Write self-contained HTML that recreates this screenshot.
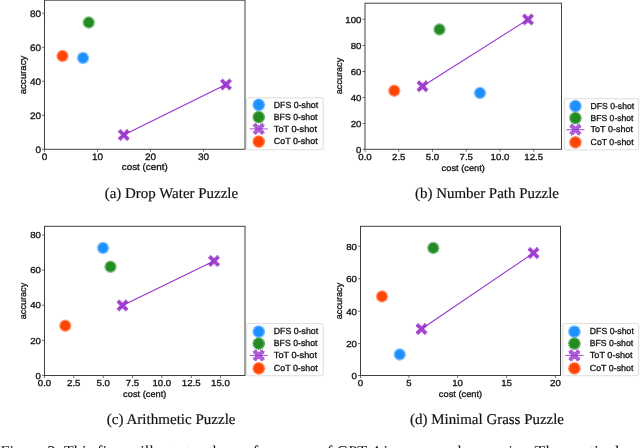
<!DOCTYPE html>
<html><head><meta charset="utf-8"><title>Figure 3</title>
<style>html,body{margin:0;padding:0;background:#fff;}body{width:640px;height:448px;overflow:hidden;}svg{display:block;}</style>
</head><body>
<svg width="640" height="448" viewBox="0 0 640 448" style="opacity:0.999;will-change:transform" text-rendering="geometricPrecision">
<rect width="640" height="448" fill="#fff"/>
<rect x="44.5" y="0.2" width="200.5" height="149.10000000000002" fill="none" stroke="#404040" stroke-width="1.0"/>
<line x1="44.5" y1="149.3" x2="44.5" y2="151.8" stroke="#404040" stroke-width="0.75"/>
<text x="44.5" y="159.8" font-family='"Liberation Sans", sans-serif' font-size="9.31" fill="#111" text-anchor="middle" textLength="5.54" lengthAdjust="spacingAndGlyphs" stroke="#111" stroke-width="0.3">0</text>
<line x1="97.5" y1="149.3" x2="97.5" y2="151.8" stroke="#404040" stroke-width="0.75"/>
<text x="97.5" y="159.8" font-family='"Liberation Sans", sans-serif' font-size="9.31" fill="#111" text-anchor="middle" textLength="11.07" lengthAdjust="spacingAndGlyphs" stroke="#111" stroke-width="0.3">10</text>
<line x1="150.5" y1="149.3" x2="150.5" y2="151.8" stroke="#404040" stroke-width="0.75"/>
<text x="150.5" y="159.8" font-family='"Liberation Sans", sans-serif' font-size="9.31" fill="#111" text-anchor="middle" textLength="11.07" lengthAdjust="spacingAndGlyphs" stroke="#111" stroke-width="0.3">20</text>
<line x1="203.6" y1="149.3" x2="203.6" y2="151.8" stroke="#404040" stroke-width="0.75"/>
<text x="203.6" y="159.8" font-family='"Liberation Sans", sans-serif' font-size="9.31" fill="#111" text-anchor="middle" textLength="11.07" lengthAdjust="spacingAndGlyphs" stroke="#111" stroke-width="0.3">30</text>
<line x1="42.0" y1="149.3" x2="44.5" y2="149.3" stroke="#404040" stroke-width="0.75"/>
<text x="41.0" y="153.08200000000002" font-family='"Liberation Sans", sans-serif' font-size="9.31" fill="#111" text-anchor="end" textLength="5.54" lengthAdjust="spacingAndGlyphs" stroke="#111" stroke-width="0.3">0</text>
<line x1="42.0" y1="115.3" x2="44.5" y2="115.3" stroke="#404040" stroke-width="0.75"/>
<text x="41.0" y="118.782" font-family='"Liberation Sans", sans-serif' font-size="9.31" fill="#111" text-anchor="end" textLength="11.07" lengthAdjust="spacingAndGlyphs" stroke="#111" stroke-width="0.3">20</text>
<line x1="42.0" y1="81.3" x2="44.5" y2="81.3" stroke="#404040" stroke-width="0.75"/>
<text x="41.0" y="84.782" font-family='"Liberation Sans", sans-serif' font-size="9.31" fill="#111" text-anchor="end" textLength="11.07" lengthAdjust="spacingAndGlyphs" stroke="#111" stroke-width="0.3">40</text>
<line x1="42.0" y1="47.3" x2="44.5" y2="47.3" stroke="#404040" stroke-width="0.75"/>
<text x="41.0" y="50.782" font-family='"Liberation Sans", sans-serif' font-size="9.31" fill="#111" text-anchor="end" textLength="11.07" lengthAdjust="spacingAndGlyphs" stroke="#111" stroke-width="0.3">60</text>
<line x1="42.0" y1="13.2" x2="44.5" y2="13.2" stroke="#404040" stroke-width="0.75"/>
<text x="41.0" y="16.682000000000002" font-family='"Liberation Sans", sans-serif' font-size="9.31" fill="#111" text-anchor="end" textLength="11.07" lengthAdjust="spacingAndGlyphs" stroke="#111" stroke-width="0.3">80</text>
<text x="144.75" y="170.4" font-family='"Liberation Sans", sans-serif' font-size="9.31" fill="#111" text-anchor="middle" textLength="45.96" lengthAdjust="spacingAndGlyphs" stroke="#111" stroke-width="0.3">cost (cent)</text>
<text x="25.8" y="75" font-family='"Liberation Sans", sans-serif' font-size="9.31" fill="#111" text-anchor="middle" textLength="38.66" lengthAdjust="spacingAndGlyphs" transform="rotate(-90 25.8 75)" stroke="#111" stroke-width="0.3">accuracy</text>
<line x1="123.75" y1="135" x2="226" y2="84.5" stroke="#9932cc" stroke-width="1.1"/>
<g transform="translate(123.75,135) rotate(45)"><path d="M-1.6,-6.3H1.6V-1.6H6.3V1.6H1.6V6.3H-1.6V1.6H-6.3V-1.6H-1.6Z" fill="#9932cc" fill-opacity="0.93" stroke="#9932cc" stroke-width="1.3" stroke-opacity="0.6" stroke-dasharray="1.2 0.7" stroke-linejoin="round"/></g>
<g transform="translate(226,84.5) rotate(45)"><path d="M-1.6,-6.3H1.6V-1.6H6.3V1.6H1.6V6.3H-1.6V1.6H-6.3V-1.6H-1.6Z" fill="#9932cc" fill-opacity="0.93" stroke="#9932cc" stroke-width="1.3" stroke-opacity="0.6" stroke-dasharray="1.2 0.7" stroke-linejoin="round"/></g>
<circle cx="62.5" cy="56" r="6.15" fill="#ff4500" fill-opacity="0.42"/>
<circle cx="62.5" cy="56" r="5.53" fill="none" stroke="#ff4500" stroke-width="1.55" stroke-dasharray="1.25 0.85" stroke-opacity="0.3"/>
<circle cx="62.5" cy="56" r="4.9" fill="#ff4500"/>
<circle cx="83" cy="58" r="6.15" fill="#1e90ff" fill-opacity="0.42"/>
<circle cx="83" cy="58" r="5.53" fill="none" stroke="#1e90ff" stroke-width="1.55" stroke-dasharray="1.25 0.85" stroke-opacity="0.3"/>
<circle cx="83" cy="58" r="4.9" fill="#1e90ff"/>
<circle cx="88.75" cy="22.5" r="6.15" fill="#228b22" fill-opacity="0.42"/>
<circle cx="88.75" cy="22.5" r="5.53" fill="none" stroke="#228b22" stroke-width="1.55" stroke-dasharray="1.25 0.85" stroke-opacity="0.3"/>
<circle cx="88.75" cy="22.5" r="4.9" fill="#228b22"/>
<rect x="246.6" y="97.8" width="76.6" height="51.89999999999999" rx="1.6" fill="#fff" stroke="#d4d4d4" stroke-width="0.8"/>
<circle cx="258.75" cy="104.9" r="6.15" fill="#1e90ff" fill-opacity="0.5"/>
<circle cx="258.75" cy="104.9" r="5.60" fill="none" stroke="#1e90ff" stroke-width="1.40" stroke-dasharray="1.25 0.85" stroke-opacity="0.6"/>
<circle cx="258.75" cy="104.9" r="5.050000000000001" fill="#1e90ff"/>
<text x="273.8" y="107.5" font-family='"Liberation Sans", sans-serif' font-size="8.83" fill="#111" text-anchor="start" textLength="44.32" lengthAdjust="spacingAndGlyphs" stroke="#111" stroke-width="0.3">DFS 0-shot</text>
<circle cx="258.75" cy="117.1" r="6.15" fill="#228b22" fill-opacity="0.5"/>
<circle cx="258.75" cy="117.1" r="5.60" fill="none" stroke="#228b22" stroke-width="1.40" stroke-dasharray="1.25 0.85" stroke-opacity="0.6"/>
<circle cx="258.75" cy="117.1" r="5.050000000000001" fill="#228b22"/>
<text x="273.8" y="119.69999999999999" font-family='"Liberation Sans", sans-serif' font-size="8.83" fill="#111" text-anchor="start" textLength="43.63" lengthAdjust="spacingAndGlyphs" stroke="#111" stroke-width="0.3">BFS 0-shot</text>
<line x1="249.65" y1="128.9" x2="267.85" y2="128.9" stroke="#9932cc" stroke-width="1.0" stroke-opacity="0.85"/>
<g transform="translate(258.75,128.9) rotate(45)"><path d="M-1.7,-6.3H1.7V-1.7H6.3V1.7H1.7V6.3H-1.7V1.7H-6.3V-1.7H-1.7Z" fill="#9932cc" fill-opacity="0.78" stroke="#9932cc" stroke-width="1.5" stroke-dasharray="1.2 0.9" stroke-opacity="0.7" stroke-linejoin="round"/></g>
<text x="273.8" y="131.5" font-family='"Liberation Sans", sans-serif' font-size="8.83" fill="#111" text-anchor="start" textLength="43.13" lengthAdjust="spacingAndGlyphs" stroke="#111" stroke-width="0.3">ToT 0-shot</text>
<circle cx="258.75" cy="141.6" r="6.15" fill="#ff4500" fill-opacity="0.5"/>
<circle cx="258.75" cy="141.6" r="5.60" fill="none" stroke="#ff4500" stroke-width="1.40" stroke-dasharray="1.25 0.85" stroke-opacity="0.6"/>
<circle cx="258.75" cy="141.6" r="5.050000000000001" fill="#ff4500"/>
<text x="273.8" y="144.2" font-family='"Liberation Sans", sans-serif' font-size="8.83" fill="#111" text-anchor="start" textLength="43.84" lengthAdjust="spacingAndGlyphs" stroke="#111" stroke-width="0.3">CoT 0-shot</text>
<text x="171.4" y="198" font-family='"Liberation Serif", serif' font-size="14.94" fill="#111" text-anchor="middle" stroke="#111" stroke-width="0.18">(a) Drop Water Puzzle</text>
<rect x="365" y="3.2" width="196.5" height="146.10000000000002" fill="none" stroke="#404040" stroke-width="1.0"/>
<line x1="365" y1="149.3" x2="365" y2="151.8" stroke="#404040" stroke-width="0.75"/>
<text x="365" y="160.3" font-family='"Liberation Sans", sans-serif' font-size="8.77" fill="#111" text-anchor="middle" textLength="13.43" lengthAdjust="spacingAndGlyphs" stroke="#111" stroke-width="0.3">0.0</text>
<line x1="398.75" y1="149.3" x2="398.75" y2="151.8" stroke="#404040" stroke-width="0.75"/>
<text x="398.75" y="160.3" font-family='"Liberation Sans", sans-serif' font-size="8.77" fill="#111" text-anchor="middle" textLength="13.43" lengthAdjust="spacingAndGlyphs" stroke="#111" stroke-width="0.3">2.5</text>
<line x1="432.5" y1="149.3" x2="432.5" y2="151.8" stroke="#404040" stroke-width="0.75"/>
<text x="432.5" y="160.3" font-family='"Liberation Sans", sans-serif' font-size="8.77" fill="#111" text-anchor="middle" textLength="13.43" lengthAdjust="spacingAndGlyphs" stroke="#111" stroke-width="0.3">5.0</text>
<line x1="466.25" y1="149.3" x2="466.25" y2="151.8" stroke="#404040" stroke-width="0.75"/>
<text x="466.25" y="160.3" font-family='"Liberation Sans", sans-serif' font-size="8.77" fill="#111" text-anchor="middle" textLength="13.43" lengthAdjust="spacingAndGlyphs" stroke="#111" stroke-width="0.3">7.5</text>
<line x1="500" y1="149.3" x2="500" y2="151.8" stroke="#404040" stroke-width="0.75"/>
<text x="500" y="160.3" font-family='"Liberation Sans", sans-serif' font-size="8.77" fill="#111" text-anchor="middle" textLength="18.81" lengthAdjust="spacingAndGlyphs" stroke="#111" stroke-width="0.3">10.0</text>
<line x1="533.75" y1="149.3" x2="533.75" y2="151.8" stroke="#404040" stroke-width="0.75"/>
<text x="533.75" y="160.3" font-family='"Liberation Sans", sans-serif' font-size="8.77" fill="#111" text-anchor="middle" textLength="18.81" lengthAdjust="spacingAndGlyphs" stroke="#111" stroke-width="0.3">12.5</text>
<line x1="362.5" y1="149.3" x2="365" y2="149.3" stroke="#404040" stroke-width="0.75"/>
<text x="361.5" y="152.752" font-family='"Liberation Sans", sans-serif' font-size="8.77" fill="#111" text-anchor="end" textLength="5.37" lengthAdjust="spacingAndGlyphs" stroke="#111" stroke-width="0.3">0</text>
<line x1="362.5" y1="123.5" x2="365" y2="123.5" stroke="#404040" stroke-width="0.75"/>
<text x="361.5" y="126.952" font-family='"Liberation Sans", sans-serif' font-size="8.77" fill="#111" text-anchor="end" textLength="10.75" lengthAdjust="spacingAndGlyphs" stroke="#111" stroke-width="0.3">20</text>
<line x1="362.5" y1="97.5" x2="365" y2="97.5" stroke="#404040" stroke-width="0.75"/>
<text x="361.5" y="100.952" font-family='"Liberation Sans", sans-serif' font-size="8.77" fill="#111" text-anchor="end" textLength="10.75" lengthAdjust="spacingAndGlyphs" stroke="#111" stroke-width="0.3">40</text>
<line x1="362.5" y1="71.5" x2="365" y2="71.5" stroke="#404040" stroke-width="0.75"/>
<text x="361.5" y="74.952" font-family='"Liberation Sans", sans-serif' font-size="8.77" fill="#111" text-anchor="end" textLength="10.75" lengthAdjust="spacingAndGlyphs" stroke="#111" stroke-width="0.3">60</text>
<line x1="362.5" y1="45.5" x2="365" y2="45.5" stroke="#404040" stroke-width="0.75"/>
<text x="361.5" y="48.952" font-family='"Liberation Sans", sans-serif' font-size="8.77" fill="#111" text-anchor="end" textLength="10.75" lengthAdjust="spacingAndGlyphs" stroke="#111" stroke-width="0.3">80</text>
<line x1="362.5" y1="19.3" x2="365" y2="19.3" stroke="#404040" stroke-width="0.75"/>
<text x="361.5" y="22.752" font-family='"Liberation Sans", sans-serif' font-size="8.77" fill="#111" text-anchor="end" textLength="16.12" lengthAdjust="spacingAndGlyphs" stroke="#111" stroke-width="0.3">100</text>
<text x="463.25" y="170.6" font-family='"Liberation Sans", sans-serif' font-size="8.77" fill="#111" text-anchor="middle" textLength="43.32" lengthAdjust="spacingAndGlyphs" stroke="#111" stroke-width="0.3">cost (cent)</text>
<text x="341.5" y="76" font-family='"Liberation Sans", sans-serif' font-size="8.77" fill="#111" text-anchor="middle" textLength="36.44" lengthAdjust="spacingAndGlyphs" transform="rotate(-90 341.5 76)" stroke="#111" stroke-width="0.3">accuracy</text>
<line x1="422.5" y1="86.25" x2="528" y2="19.5" stroke="#9932cc" stroke-width="1.1"/>
<g transform="translate(422.5,86.25) rotate(45)"><path d="M-1.6,-6.3H1.6V-1.6H6.3V1.6H1.6V6.3H-1.6V1.6H-6.3V-1.6H-1.6Z" fill="#9932cc" fill-opacity="0.93" stroke="#9932cc" stroke-width="1.3" stroke-opacity="0.6" stroke-dasharray="1.2 0.7" stroke-linejoin="round"/></g>
<g transform="translate(528,19.5) rotate(45)"><path d="M-1.6,-6.3H1.6V-1.6H6.3V1.6H1.6V6.3H-1.6V1.6H-6.3V-1.6H-1.6Z" fill="#9932cc" fill-opacity="0.93" stroke="#9932cc" stroke-width="1.3" stroke-opacity="0.6" stroke-dasharray="1.2 0.7" stroke-linejoin="round"/></g>
<circle cx="394.25" cy="90.75" r="6.15" fill="#ff4500" fill-opacity="0.42"/>
<circle cx="394.25" cy="90.75" r="5.53" fill="none" stroke="#ff4500" stroke-width="1.55" stroke-dasharray="1.25 0.85" stroke-opacity="0.3"/>
<circle cx="394.25" cy="90.75" r="4.9" fill="#ff4500"/>
<circle cx="480" cy="93" r="6.15" fill="#1e90ff" fill-opacity="0.42"/>
<circle cx="480" cy="93" r="5.53" fill="none" stroke="#1e90ff" stroke-width="1.55" stroke-dasharray="1.25 0.85" stroke-opacity="0.3"/>
<circle cx="480" cy="93" r="4.9" fill="#1e90ff"/>
<circle cx="439.5" cy="29.5" r="6.15" fill="#228b22" fill-opacity="0.42"/>
<circle cx="439.5" cy="29.5" r="5.53" fill="none" stroke="#228b22" stroke-width="1.55" stroke-dasharray="1.25 0.85" stroke-opacity="0.3"/>
<circle cx="439.5" cy="29.5" r="4.9" fill="#228b22"/>
<rect x="564.4" y="98.7" width="74.20000000000005" height="51.10000000000001" rx="1.6" fill="#fff" stroke="#d4d4d4" stroke-width="0.8"/>
<circle cx="575.4" cy="106.1" r="6.15" fill="#1e90ff" fill-opacity="0.5"/>
<circle cx="575.4" cy="106.1" r="5.60" fill="none" stroke="#1e90ff" stroke-width="1.40" stroke-dasharray="1.25 0.85" stroke-opacity="0.6"/>
<circle cx="575.4" cy="106.1" r="5.050000000000001" fill="#1e90ff"/>
<text x="590.6" y="108.69999999999999" font-family='"Liberation Sans", sans-serif' font-size="8.67" fill="#111" text-anchor="start" textLength="43.51" lengthAdjust="spacingAndGlyphs" stroke="#111" stroke-width="0.3">DFS 0-shot</text>
<circle cx="575.4" cy="118.1" r="6.15" fill="#228b22" fill-opacity="0.5"/>
<circle cx="575.4" cy="118.1" r="5.60" fill="none" stroke="#228b22" stroke-width="1.40" stroke-dasharray="1.25 0.85" stroke-opacity="0.6"/>
<circle cx="575.4" cy="118.1" r="5.050000000000001" fill="#228b22"/>
<text x="590.6" y="120.69999999999999" font-family='"Liberation Sans", sans-serif' font-size="8.67" fill="#111" text-anchor="start" textLength="42.84" lengthAdjust="spacingAndGlyphs" stroke="#111" stroke-width="0.3">BFS 0-shot</text>
<line x1="566.3" y1="129.7" x2="584.5" y2="129.7" stroke="#9932cc" stroke-width="1.0" stroke-opacity="0.85"/>
<g transform="translate(575.4,129.7) rotate(45)"><path d="M-1.7,-6.3H1.7V-1.7H6.3V1.7H1.7V6.3H-1.7V1.7H-6.3V-1.7H-1.7Z" fill="#9932cc" fill-opacity="0.78" stroke="#9932cc" stroke-width="1.5" stroke-dasharray="1.2 0.9" stroke-opacity="0.7" stroke-linejoin="round"/></g>
<text x="590.6" y="132.29999999999998" font-family='"Liberation Sans", sans-serif' font-size="8.67" fill="#111" text-anchor="start" textLength="42.34" lengthAdjust="spacingAndGlyphs" stroke="#111" stroke-width="0.3">ToT 0-shot</text>
<circle cx="575.4" cy="142.3" r="6.15" fill="#ff4500" fill-opacity="0.5"/>
<circle cx="575.4" cy="142.3" r="5.60" fill="none" stroke="#ff4500" stroke-width="1.40" stroke-dasharray="1.25 0.85" stroke-opacity="0.6"/>
<circle cx="575.4" cy="142.3" r="5.050000000000001" fill="#ff4500"/>
<text x="590.6" y="144.9" font-family='"Liberation Sans", sans-serif' font-size="8.67" fill="#111" text-anchor="start" textLength="43.04" lengthAdjust="spacingAndGlyphs" stroke="#111" stroke-width="0.3">CoT 0-shot</text>
<text x="487" y="198" font-family='"Liberation Serif", serif' font-size="14.94" fill="#111" text-anchor="middle" stroke="#111" stroke-width="0.18">(b) Number Path Puzzle</text>
<rect x="44.5" y="226.3" width="200.5" height="149.2" fill="none" stroke="#404040" stroke-width="1.0"/>
<line x1="44.5" y1="375.5" x2="44.5" y2="378.0" stroke="#404040" stroke-width="0.75"/>
<text x="44.5" y="386.2" font-family='"Liberation Sans", sans-serif' font-size="8.77" fill="#111" text-anchor="middle" textLength="13.43" lengthAdjust="spacingAndGlyphs" stroke="#111" stroke-width="0.3">0.0</text>
<line x1="73.75" y1="375.5" x2="73.75" y2="378.0" stroke="#404040" stroke-width="0.75"/>
<text x="73.75" y="386.2" font-family='"Liberation Sans", sans-serif' font-size="8.77" fill="#111" text-anchor="middle" textLength="13.43" lengthAdjust="spacingAndGlyphs" stroke="#111" stroke-width="0.3">2.5</text>
<line x1="103.25" y1="375.5" x2="103.25" y2="378.0" stroke="#404040" stroke-width="0.75"/>
<text x="103.25" y="386.2" font-family='"Liberation Sans", sans-serif' font-size="8.77" fill="#111" text-anchor="middle" textLength="13.43" lengthAdjust="spacingAndGlyphs" stroke="#111" stroke-width="0.3">5.0</text>
<line x1="132.5" y1="375.5" x2="132.5" y2="378.0" stroke="#404040" stroke-width="0.75"/>
<text x="132.5" y="386.2" font-family='"Liberation Sans", sans-serif' font-size="8.77" fill="#111" text-anchor="middle" textLength="13.43" lengthAdjust="spacingAndGlyphs" stroke="#111" stroke-width="0.3">7.5</text>
<line x1="161.8" y1="375.5" x2="161.8" y2="378.0" stroke="#404040" stroke-width="0.75"/>
<text x="161.8" y="386.2" font-family='"Liberation Sans", sans-serif' font-size="8.77" fill="#111" text-anchor="middle" textLength="18.81" lengthAdjust="spacingAndGlyphs" stroke="#111" stroke-width="0.3">10.0</text>
<line x1="191.25" y1="375.5" x2="191.25" y2="378.0" stroke="#404040" stroke-width="0.75"/>
<text x="191.25" y="386.2" font-family='"Liberation Sans", sans-serif' font-size="8.77" fill="#111" text-anchor="middle" textLength="18.81" lengthAdjust="spacingAndGlyphs" stroke="#111" stroke-width="0.3">12.5</text>
<line x1="220.5" y1="375.5" x2="220.5" y2="378.0" stroke="#404040" stroke-width="0.75"/>
<text x="220.5" y="386.2" font-family='"Liberation Sans", sans-serif' font-size="8.77" fill="#111" text-anchor="middle" textLength="18.81" lengthAdjust="spacingAndGlyphs" stroke="#111" stroke-width="0.3">15.0</text>
<line x1="42.0" y1="375.5" x2="44.5" y2="375.5" stroke="#404040" stroke-width="0.75"/>
<text x="41.0" y="379.052" font-family='"Liberation Sans", sans-serif' font-size="8.77" fill="#111" text-anchor="end" textLength="5.37" lengthAdjust="spacingAndGlyphs" stroke="#111" stroke-width="0.3">0</text>
<line x1="42.0" y1="340.4" x2="44.5" y2="340.4" stroke="#404040" stroke-width="0.75"/>
<text x="41.0" y="343.55199999999996" font-family='"Liberation Sans", sans-serif' font-size="8.77" fill="#111" text-anchor="end" textLength="10.75" lengthAdjust="spacingAndGlyphs" stroke="#111" stroke-width="0.3">20</text>
<line x1="42.0" y1="305.25" x2="44.5" y2="305.25" stroke="#404040" stroke-width="0.75"/>
<text x="41.0" y="308.202" font-family='"Liberation Sans", sans-serif' font-size="8.77" fill="#111" text-anchor="end" textLength="10.75" lengthAdjust="spacingAndGlyphs" stroke="#111" stroke-width="0.3">40</text>
<line x1="42.0" y1="270.1" x2="44.5" y2="270.1" stroke="#404040" stroke-width="0.75"/>
<text x="41.0" y="273.052" font-family='"Liberation Sans", sans-serif' font-size="8.77" fill="#111" text-anchor="end" textLength="10.75" lengthAdjust="spacingAndGlyphs" stroke="#111" stroke-width="0.3">60</text>
<line x1="42.0" y1="235" x2="44.5" y2="235" stroke="#404040" stroke-width="0.75"/>
<text x="41.0" y="237.952" font-family='"Liberation Sans", sans-serif' font-size="8.77" fill="#111" text-anchor="end" textLength="10.75" lengthAdjust="spacingAndGlyphs" stroke="#111" stroke-width="0.3">80</text>
<text x="144.75" y="396.8" font-family='"Liberation Sans", sans-serif' font-size="8.77" fill="#111" text-anchor="middle" textLength="43.32" lengthAdjust="spacingAndGlyphs" stroke="#111" stroke-width="0.3">cost (cent)</text>
<text x="25.8" y="301" font-family='"Liberation Sans", sans-serif' font-size="8.77" fill="#111" text-anchor="middle" textLength="36.44" lengthAdjust="spacingAndGlyphs" transform="rotate(-90 25.8 301)" stroke="#111" stroke-width="0.3">accuracy</text>
<line x1="122.5" y1="305.5" x2="214" y2="261" stroke="#9932cc" stroke-width="1.1"/>
<g transform="translate(122.5,305.5) rotate(45)"><path d="M-1.6,-6.3H1.6V-1.6H6.3V1.6H1.6V6.3H-1.6V1.6H-6.3V-1.6H-1.6Z" fill="#9932cc" fill-opacity="0.93" stroke="#9932cc" stroke-width="1.3" stroke-opacity="0.6" stroke-dasharray="1.2 0.7" stroke-linejoin="round"/></g>
<g transform="translate(214,261) rotate(45)"><path d="M-1.6,-6.3H1.6V-1.6H6.3V1.6H1.6V6.3H-1.6V1.6H-6.3V-1.6H-1.6Z" fill="#9932cc" fill-opacity="0.93" stroke="#9932cc" stroke-width="1.3" stroke-opacity="0.6" stroke-dasharray="1.2 0.7" stroke-linejoin="round"/></g>
<circle cx="65.25" cy="325.75" r="6.15" fill="#ff4500" fill-opacity="0.42"/>
<circle cx="65.25" cy="325.75" r="5.53" fill="none" stroke="#ff4500" stroke-width="1.55" stroke-dasharray="1.25 0.85" stroke-opacity="0.3"/>
<circle cx="65.25" cy="325.75" r="4.9" fill="#ff4500"/>
<circle cx="103" cy="248" r="6.15" fill="#1e90ff" fill-opacity="0.42"/>
<circle cx="103" cy="248" r="5.53" fill="none" stroke="#1e90ff" stroke-width="1.55" stroke-dasharray="1.25 0.85" stroke-opacity="0.3"/>
<circle cx="103" cy="248" r="4.9" fill="#1e90ff"/>
<circle cx="110.5" cy="266.75" r="6.15" fill="#228b22" fill-opacity="0.42"/>
<circle cx="110.5" cy="266.75" r="5.53" fill="none" stroke="#228b22" stroke-width="1.55" stroke-dasharray="1.25 0.85" stroke-opacity="0.3"/>
<circle cx="110.5" cy="266.75" r="4.9" fill="#228b22"/>
<rect x="246.6" y="323.6" width="76.6" height="52.099999999999966" rx="1.6" fill="#fff" stroke="#d4d4d4" stroke-width="0.8"/>
<circle cx="258.75" cy="331.7" r="6.15" fill="#1e90ff" fill-opacity="0.5"/>
<circle cx="258.75" cy="331.7" r="5.60" fill="none" stroke="#1e90ff" stroke-width="1.40" stroke-dasharray="1.25 0.85" stroke-opacity="0.6"/>
<circle cx="258.75" cy="331.7" r="5.050000000000001" fill="#1e90ff"/>
<text x="273.8" y="334.3" font-family='"Liberation Sans", sans-serif' font-size="8.83" fill="#111" text-anchor="start" textLength="44.32" lengthAdjust="spacingAndGlyphs" stroke="#111" stroke-width="0.3">DFS 0-shot</text>
<circle cx="258.75" cy="343.6" r="6.15" fill="#228b22" fill-opacity="0.5"/>
<circle cx="258.75" cy="343.6" r="5.60" fill="none" stroke="#228b22" stroke-width="1.40" stroke-dasharray="1.25 0.85" stroke-opacity="0.6"/>
<circle cx="258.75" cy="343.6" r="5.050000000000001" fill="#228b22"/>
<text x="273.8" y="346.20000000000005" font-family='"Liberation Sans", sans-serif' font-size="8.83" fill="#111" text-anchor="start" textLength="43.63" lengthAdjust="spacingAndGlyphs" stroke="#111" stroke-width="0.3">BFS 0-shot</text>
<line x1="249.65" y1="355.4" x2="267.85" y2="355.4" stroke="#9932cc" stroke-width="1.0" stroke-opacity="0.85"/>
<g transform="translate(258.75,355.4) rotate(45)"><path d="M-1.7,-6.3H1.7V-1.7H6.3V1.7H1.7V6.3H-1.7V1.7H-6.3V-1.7H-1.7Z" fill="#9932cc" fill-opacity="0.78" stroke="#9932cc" stroke-width="1.5" stroke-dasharray="1.2 0.9" stroke-opacity="0.7" stroke-linejoin="round"/></g>
<text x="273.8" y="358.0" font-family='"Liberation Sans", sans-serif' font-size="8.83" fill="#111" text-anchor="start" textLength="43.13" lengthAdjust="spacingAndGlyphs" stroke="#111" stroke-width="0.3">ToT 0-shot</text>
<circle cx="258.75" cy="368.4" r="6.15" fill="#ff4500" fill-opacity="0.5"/>
<circle cx="258.75" cy="368.4" r="5.60" fill="none" stroke="#ff4500" stroke-width="1.40" stroke-dasharray="1.25 0.85" stroke-opacity="0.6"/>
<circle cx="258.75" cy="368.4" r="5.050000000000001" fill="#ff4500"/>
<text x="273.8" y="371.0" font-family='"Liberation Sans", sans-serif' font-size="8.83" fill="#111" text-anchor="start" textLength="43.84" lengthAdjust="spacingAndGlyphs" stroke="#111" stroke-width="0.3">CoT 0-shot</text>
<text x="171.2" y="424.2" font-family='"Liberation Serif", serif' font-size="14.94" fill="#111" text-anchor="middle" textLength="128.7" lengthAdjust="spacingAndGlyphs" stroke="#111" stroke-width="0.18">(c) Arithmetic Puzzle</text>
<rect x="360.5" y="226.3" width="200.0" height="149.2" fill="none" stroke="#404040" stroke-width="1.0"/>
<line x1="360.5" y1="375.5" x2="360.5" y2="378.0" stroke="#404040" stroke-width="0.75"/>
<text x="360.5" y="386.2" font-family='"Liberation Sans", sans-serif' font-size="8.77" fill="#111" text-anchor="middle" textLength="5.37" lengthAdjust="spacingAndGlyphs" stroke="#111" stroke-width="0.3">0</text>
<line x1="408.9" y1="375.5" x2="408.9" y2="378.0" stroke="#404040" stroke-width="0.75"/>
<text x="408.9" y="386.2" font-family='"Liberation Sans", sans-serif' font-size="8.77" fill="#111" text-anchor="middle" textLength="5.37" lengthAdjust="spacingAndGlyphs" stroke="#111" stroke-width="0.3">5</text>
<line x1="457.6" y1="375.5" x2="457.6" y2="378.0" stroke="#404040" stroke-width="0.75"/>
<text x="457.6" y="386.2" font-family='"Liberation Sans", sans-serif' font-size="8.77" fill="#111" text-anchor="middle" textLength="10.75" lengthAdjust="spacingAndGlyphs" stroke="#111" stroke-width="0.3">10</text>
<line x1="506.6" y1="375.5" x2="506.6" y2="378.0" stroke="#404040" stroke-width="0.75"/>
<text x="506.6" y="386.2" font-family='"Liberation Sans", sans-serif' font-size="8.77" fill="#111" text-anchor="middle" textLength="10.75" lengthAdjust="spacingAndGlyphs" stroke="#111" stroke-width="0.3">15</text>
<line x1="555.4" y1="375.5" x2="555.4" y2="378.0" stroke="#404040" stroke-width="0.75"/>
<text x="555.4" y="386.2" font-family='"Liberation Sans", sans-serif' font-size="8.77" fill="#111" text-anchor="middle" textLength="10.75" lengthAdjust="spacingAndGlyphs" stroke="#111" stroke-width="0.3">20</text>
<line x1="358.0" y1="375.5" x2="360.5" y2="375.5" stroke="#404040" stroke-width="0.75"/>
<text x="357.0" y="379.252" font-family='"Liberation Sans", sans-serif' font-size="8.77" fill="#111" text-anchor="end" textLength="5.37" lengthAdjust="spacingAndGlyphs" stroke="#111" stroke-width="0.3">0</text>
<line x1="358.0" y1="343.6" x2="360.5" y2="343.6" stroke="#404040" stroke-width="0.75"/>
<text x="357.0" y="346.85200000000003" font-family='"Liberation Sans", sans-serif' font-size="8.77" fill="#111" text-anchor="end" textLength="10.75" lengthAdjust="spacingAndGlyphs" stroke="#111" stroke-width="0.3">20</text>
<line x1="358.0" y1="311.25" x2="360.5" y2="311.25" stroke="#404040" stroke-width="0.75"/>
<text x="357.0" y="314.502" font-family='"Liberation Sans", sans-serif' font-size="8.77" fill="#111" text-anchor="end" textLength="10.75" lengthAdjust="spacingAndGlyphs" stroke="#111" stroke-width="0.3">40</text>
<line x1="358.0" y1="278.75" x2="360.5" y2="278.75" stroke="#404040" stroke-width="0.75"/>
<text x="357.0" y="282.002" font-family='"Liberation Sans", sans-serif' font-size="8.77" fill="#111" text-anchor="end" textLength="10.75" lengthAdjust="spacingAndGlyphs" stroke="#111" stroke-width="0.3">60</text>
<line x1="358.0" y1="246.25" x2="360.5" y2="246.25" stroke="#404040" stroke-width="0.75"/>
<text x="357.0" y="249.502" font-family='"Liberation Sans", sans-serif' font-size="8.77" fill="#111" text-anchor="end" textLength="10.75" lengthAdjust="spacingAndGlyphs" stroke="#111" stroke-width="0.3">80</text>
<text x="460.5" y="396.8" font-family='"Liberation Sans", sans-serif' font-size="8.77" fill="#111" text-anchor="middle" textLength="43.32" lengthAdjust="spacingAndGlyphs" stroke="#111" stroke-width="0.3">cost (cent)</text>
<text x="341.5" y="301" font-family='"Liberation Sans", sans-serif' font-size="8.77" fill="#111" text-anchor="middle" textLength="36.44" lengthAdjust="spacingAndGlyphs" transform="rotate(-90 341.5 301)" stroke="#111" stroke-width="0.3">accuracy</text>
<line x1="421.5" y1="329" x2="533.5" y2="253" stroke="#9932cc" stroke-width="1.1"/>
<g transform="translate(421.5,329) rotate(45)"><path d="M-1.6,-6.3H1.6V-1.6H6.3V1.6H1.6V6.3H-1.6V1.6H-6.3V-1.6H-1.6Z" fill="#9932cc" fill-opacity="0.93" stroke="#9932cc" stroke-width="1.3" stroke-opacity="0.6" stroke-dasharray="1.2 0.7" stroke-linejoin="round"/></g>
<g transform="translate(533.5,253) rotate(45)"><path d="M-1.6,-6.3H1.6V-1.6H6.3V1.6H1.6V6.3H-1.6V1.6H-6.3V-1.6H-1.6Z" fill="#9932cc" fill-opacity="0.93" stroke="#9932cc" stroke-width="1.3" stroke-opacity="0.6" stroke-dasharray="1.2 0.7" stroke-linejoin="round"/></g>
<circle cx="382" cy="296.5" r="6.15" fill="#ff4500" fill-opacity="0.42"/>
<circle cx="382" cy="296.5" r="5.53" fill="none" stroke="#ff4500" stroke-width="1.55" stroke-dasharray="1.25 0.85" stroke-opacity="0.3"/>
<circle cx="382" cy="296.5" r="4.9" fill="#ff4500"/>
<circle cx="399.75" cy="354.5" r="6.15" fill="#1e90ff" fill-opacity="0.42"/>
<circle cx="399.75" cy="354.5" r="5.53" fill="none" stroke="#1e90ff" stroke-width="1.55" stroke-dasharray="1.25 0.85" stroke-opacity="0.3"/>
<circle cx="399.75" cy="354.5" r="4.9" fill="#1e90ff"/>
<circle cx="433.25" cy="248" r="6.15" fill="#228b22" fill-opacity="0.42"/>
<circle cx="433.25" cy="248" r="5.53" fill="none" stroke="#228b22" stroke-width="1.55" stroke-dasharray="1.25 0.85" stroke-opacity="0.3"/>
<circle cx="433.25" cy="248" r="4.9" fill="#228b22"/>
<rect x="562.8" y="323.6" width="75.80000000000007" height="52.099999999999966" rx="1.6" fill="#fff" stroke="#d4d4d4" stroke-width="0.8"/>
<circle cx="574.4" cy="331.7" r="6.15" fill="#1e90ff" fill-opacity="0.5"/>
<circle cx="574.4" cy="331.7" r="5.60" fill="none" stroke="#1e90ff" stroke-width="1.40" stroke-dasharray="1.25 0.85" stroke-opacity="0.6"/>
<circle cx="574.4" cy="331.7" r="5.050000000000001" fill="#1e90ff"/>
<text x="589.8" y="334.3" font-family='"Liberation Sans", sans-serif' font-size="8.77" fill="#111" text-anchor="start" textLength="44.05" lengthAdjust="spacingAndGlyphs" stroke="#111" stroke-width="0.3">DFS 0-shot</text>
<circle cx="574.4" cy="343.6" r="6.15" fill="#228b22" fill-opacity="0.5"/>
<circle cx="574.4" cy="343.6" r="5.60" fill="none" stroke="#228b22" stroke-width="1.40" stroke-dasharray="1.25 0.85" stroke-opacity="0.6"/>
<circle cx="574.4" cy="343.6" r="5.050000000000001" fill="#228b22"/>
<text x="589.8" y="346.20000000000005" font-family='"Liberation Sans", sans-serif' font-size="8.77" fill="#111" text-anchor="start" textLength="43.37" lengthAdjust="spacingAndGlyphs" stroke="#111" stroke-width="0.3">BFS 0-shot</text>
<line x1="565.3" y1="355.4" x2="583.5" y2="355.4" stroke="#9932cc" stroke-width="1.0" stroke-opacity="0.85"/>
<g transform="translate(574.4,355.4) rotate(45)"><path d="M-1.7,-6.3H1.7V-1.7H6.3V1.7H1.7V6.3H-1.7V1.7H-6.3V-1.7H-1.7Z" fill="#9932cc" fill-opacity="0.78" stroke="#9932cc" stroke-width="1.5" stroke-dasharray="1.2 0.9" stroke-opacity="0.7" stroke-linejoin="round"/></g>
<text x="589.8" y="358.0" font-family='"Liberation Sans", sans-serif' font-size="8.77" fill="#111" text-anchor="start" textLength="42.87" lengthAdjust="spacingAndGlyphs" stroke="#111" stroke-width="0.3">ToT 0-shot</text>
<circle cx="574.4" cy="368.4" r="6.15" fill="#ff4500" fill-opacity="0.5"/>
<circle cx="574.4" cy="368.4" r="5.60" fill="none" stroke="#ff4500" stroke-width="1.40" stroke-dasharray="1.25 0.85" stroke-opacity="0.6"/>
<circle cx="574.4" cy="368.4" r="5.050000000000001" fill="#ff4500"/>
<text x="589.8" y="371.0" font-family='"Liberation Sans", sans-serif' font-size="8.77" fill="#111" text-anchor="start" textLength="43.57" lengthAdjust="spacingAndGlyphs" stroke="#111" stroke-width="0.3">CoT 0-shot</text>
<text x="487" y="424.2" font-family='"Liberation Serif", serif' font-size="14.94" fill="#111" text-anchor="middle" stroke="#111" stroke-width="0.18">(d) Minimal Grass Puzzle</text>
<text x="0.5" y="457.3" font-family='"Liberation Serif", serif' font-size="16.6" fill="#111" text-anchor="start" textLength="468.5" lengthAdjust="spacingAndGlyphs">Figure 3: This figure illustrates the performance of GPT-4 in our puzzle</text>
<text x="474" y="457.3" font-family='"Liberation Serif", serif' font-size="16.6" fill="#111" text-anchor="start" textLength="55" lengthAdjust="spacingAndGlyphs">reasoning.</text>
<text x="534.6" y="457.3" font-family='"Liberation Serif", serif' font-size="16.6" fill="#111" text-anchor="start" textLength="118" lengthAdjust="spacingAndGlyphs">The vertical axis</text>
</svg></body></html>
